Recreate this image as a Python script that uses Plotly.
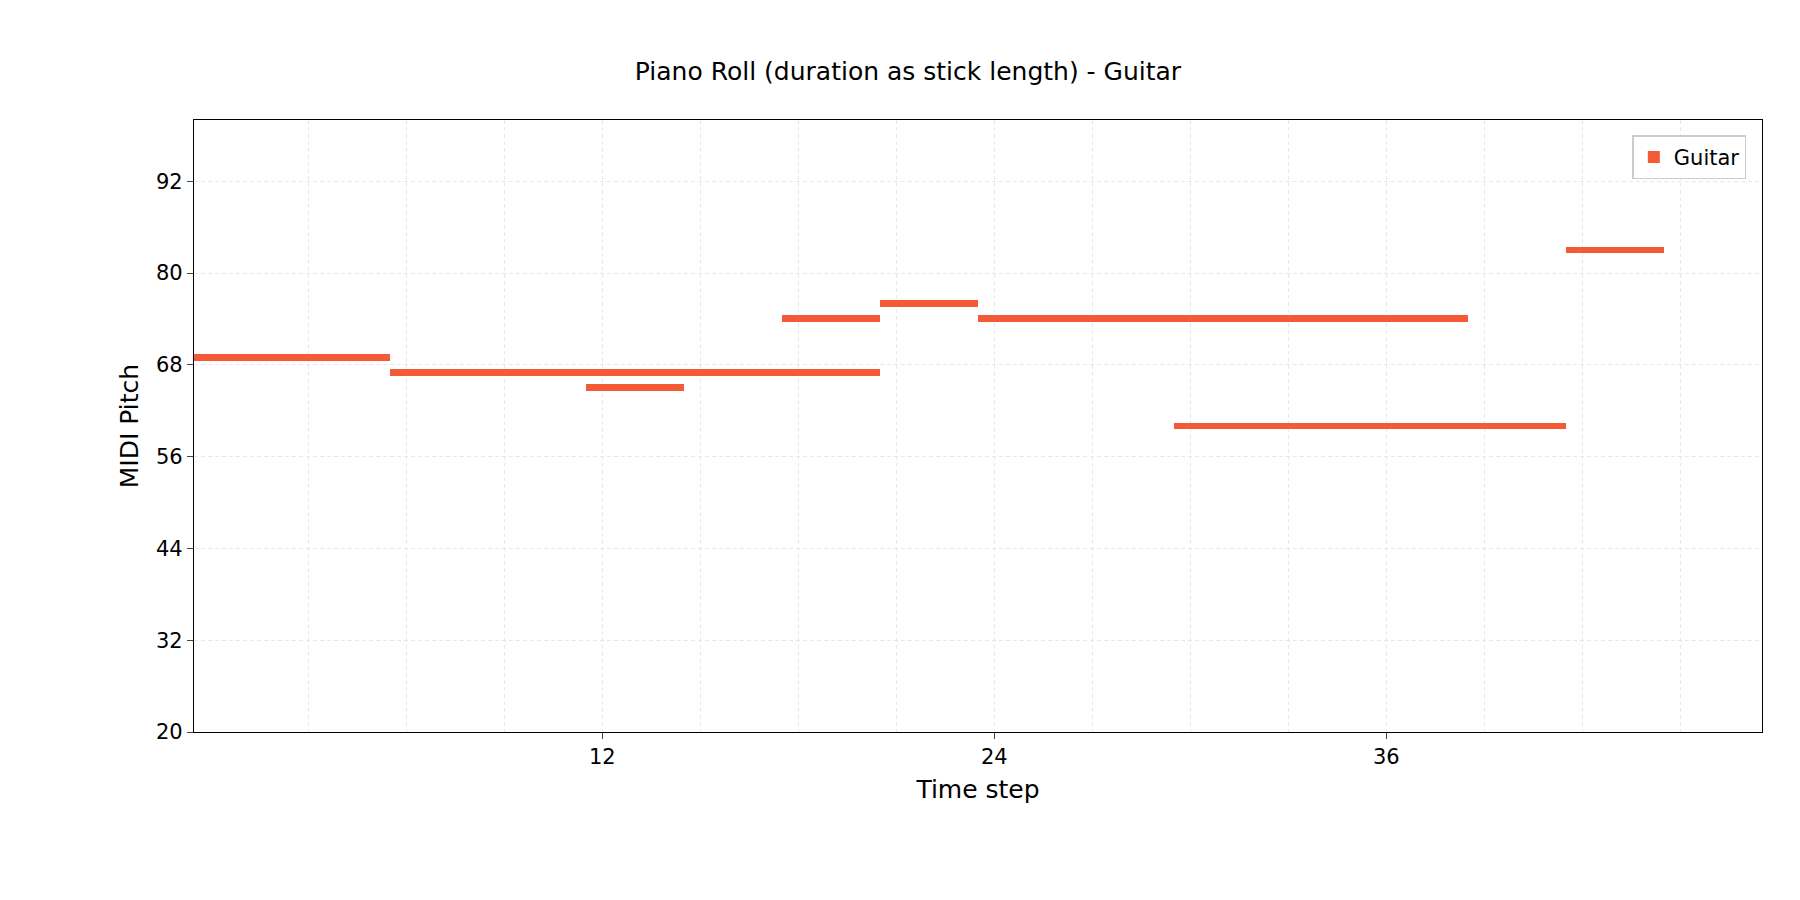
import plotly.graph_objects as go

starts = [0, 6, 12, 18, 21, 24, 30, 42]
durations = [6, 15, 3, 3, 3, 15, 12, 3]
pitches = [69, 67, 65, 74, 76, 74, 60, 83]
color = "#f45a36"
x_grid = [3, 6, 9, 12, 15, 18, 21, 24, 27, 30, 33, 36, 39, 42, 45]

fig = go.Figure()
fig.add_trace(go.Bar(
    orientation="h",
    base=[s - 0.5 for s in starts],
    x=durations,
    y=pitches,
    width=0.9,
    marker=dict(color=color, line=dict(width=0)),
    name="Guitar",
    showlegend=True,
))

fig.update_layout(
    width=1800, height=900,
    plot_bgcolor="white", paper_bgcolor="white",
    margin=dict(l=186, r=46, t=112, b=176),
    font=dict(family="DejaVu Sans", size=21, color="black"),
    title=dict(text="Piano Roll (duration as stick length) - Guitar", x=0.5, xanchor="center",
               y=0.93, yanchor="middle", font=dict(size=25)),
    showlegend=True,
    legend=dict(x=0.99, y=0.975, xanchor="right", yanchor="top",
                bordercolor="#cccccc", borderwidth=1.5, font=dict(size=21)),
    bargap=0,
)
fig.update_xaxes(
    range=[-0.5, 47.5], tickvals=[12, 24, 36], ticks="outside", ticklen=6,
    showline=True, linecolor="black", mirror=True, linewidth=1.2,
    showgrid=False, zeroline=False,
    minor=dict(tickvals=x_grid, showgrid=True, gridcolor="#e8e8e8", griddash="4px,3px", gridwidth=1, ticks=""),
    title=dict(text="Time step", standoff=12),
)
fig.update_yaxes(
    range=[20, 100], tickvals=[20, 32, 44, 56, 68, 80, 92], ticks="outside", ticklen=6,
    showline=True, linecolor="black", mirror=True, linewidth=1.2,
    showgrid=True, gridcolor="#e8e8e8", griddash="4px,3px", zeroline=False,
    title=dict(text="MIDI Pitch", standoff=10),
)
fig.write_html("out.html")
